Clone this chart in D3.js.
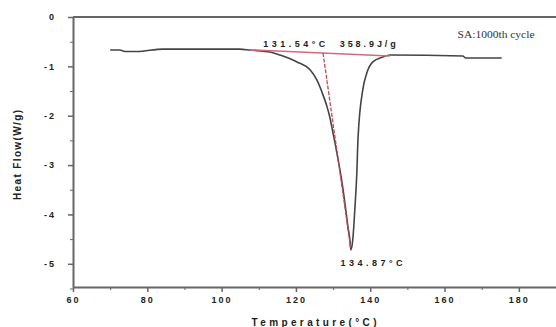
<!DOCTYPE html>
<html>
<head>
<meta charset="utf-8">
<script src="https://cdn.jsdelivr.net/npm/d3@7"></script>
<style>
  body { margin: 0; background: #fff; }
  text { font-family: "Liberation Sans", Arial, sans-serif; }
</style>
</head>
<body>
<div id="chart-area"></div>
<script>

// DSC trace
let temps = [70.0, 72.6, 74.0, 77.2, 84.2, 104.9, 107.6, 113.0, 115.7, 120.3, 123.8, 125.6, 127.0, 128.3, 129.1, 129.9,
             130.7, 131.5, 132.3, 133.2, 134.0, 134.5, 134.8, 135.3, 135.9, 136.4, 136.7, 138.0, 139.1, 140.7, 143.4, 145.3,
             164.9, 165.7, 175.4];
let heatFlow = [-0.67, -0.67, -0.70, -0.70, -0.65, -0.65, -0.67, -0.71, -0.77, -0.91, -1.07, -1.27, -1.52, -1.80, -2.02, -2.32,
                -2.62, -2.95, -3.30, -3.78, -4.25, -4.50, -4.72, -4.51, -3.84, -3.15, -2.48, -1.47, -1.13, -0.91, -0.81, -0.77,
                -0.79, -0.83, -0.83];

// red construction lines (onset baseline + tangent)
let baseT = [107.6, 145.3];
let baseHF = [-0.667, -0.79];
let tanT = [127.3, 134.8];
let tanHF = [-0.73, -4.71];

let xTicks = [60, 80, 100, 120, 140, 160, 180];
let yTicks = [0, -1, -2, -3, -4, -5];

let margin = {top: 17, right: 0, bottom: 40, left: 73};
let width = 556 - margin.left - margin.right,
    height = 327 - margin.top - margin.bottom;

let svg = d3.select("#chart-area").append("svg")
    .attr("width", 556)
    .attr("height", 327)
  .append("g")
    .attr("transform", "translate(" + margin.left + "," + margin.top + ")");

let x = d3.scaleLinear().domain([60, 190]).range([0, width]);
let y = d3.scaleLinear().domain([0, -5.47]).range([0, height]);

// minor ticks first
svg.append("g")
    .attr("transform", "translate(0," + height + ")")
    .call(d3.axisBottom(x).tickValues(d3.range(70, 190, 20)).tickSize(3).tickFormat(""))
    .call(g => g.select(".domain").remove())
    .selectAll("line").attr("stroke", "#666");
svg.append("g")
    .call(d3.axisLeft(y).tickValues(d3.range(-0.5, -5.6, -1)).tickSize(3).tickFormat(""))
    .call(g => g.select(".domain").remove())
    .selectAll("line").attr("stroke", "#666");

let xg = svg.append("g")
    .attr("transform", "translate(0," + height + ")")
    .call(d3.axisBottom(x).tickValues(xTicks).tickSize(5).tickPadding(5).tickSizeOuter(0));
let yg = svg.append("g")
    .call(d3.axisLeft(y).tickValues(yTicks).tickSize(5).tickPadding(12).tickSizeOuter(0)
        .tickFormat(d => d === 0 ? "0" : "-" + Math.abs(d)));

[xg, yg].forEach(g => {
    g.select(".domain").attr("stroke", "#666").attr("stroke-width", 2);
    g.selectAll("line").attr("stroke", "#666").attr("stroke-width", 1.5);
    g.selectAll("text")
        .attr("fill", "#222")
        .style("font-size", "9px")
        .style("font-weight", "bold")
        .style("letter-spacing", "2px");
});

// top frame line
svg.append("line")
    .attr("x1", 0).attr("x2", width)
    .attr("y1", y(0)).attr("y2", y(0))
    .attr("stroke", "#666").attr("stroke-width", 2);

let line = d3.line()
    .x(d => x(d[0]))
    .y(d => y(d[1]))
    .curve(d3.curveMonotoneX);

svg.append("path")
    .datum(d3.zip(temps, heatFlow))
    .attr("d", line)
    .attr("fill", "none")
    .attr("stroke", "#444")
    .attr("stroke-width", 1.6);

let straight = d3.line().x(d => x(d[0])).y(d => y(d[1]));

svg.append("path")
    .datum(d3.zip(baseT, baseHF))
    .attr("d", straight)
    .attr("fill", "none")
    .attr("stroke", "#d46a7c")
    .attr("stroke-width", 1.5);

svg.append("path")
    .datum(d3.zip(tanT, tanHF))
    .attr("d", straight)
    .attr("fill", "none")
    .attr("stroke", "#c8455e")
    .attr("stroke-width", 1.3)
    .attr("stroke-dasharray", "4,1.5");

// annotations
function note(t, tx, ty, len) {
    svg.append("text")
        .attr("x", x(tx)).attr("y", y(ty))
        .attr("textLength", len)
        .attr("lengthAdjust", "spacing")
        .style("font-size", "9px")
        .style("font-weight", "bold")
        .attr("fill", "#222")
        .text(t);
}
note("131.54°C", 111.2, -0.6, 62);
note("358.9J/g", 131.8, -0.6, 56);
note("134.87°C", 132.0, -5.05, 62);

svg.append("text")
    .attr("x", x(163.5)).attr("y", y(-0.42))
    .attr("textLength", 77)
    .attr("lengthAdjust", "spacingAndGlyphs")
    .style("font-family", "'Liberation Serif', 'Times New Roman', serif")
    .style("font-size", "10px")
    .attr("fill", "#333")
    .text("SA:1000th cycle");

// axis titles
svg.append("text")
    .attr("x", 314 - margin.left).attr("y", 327 - margin.top - 1)
    .attr("text-anchor", "middle")
    .attr("textLength", 125)
    .attr("lengthAdjust", "spacing")
    .style("font-size", "10px")
    .style("font-weight", "bold")
    .attr("fill", "#222")
    .text("Temperature(°C)");

svg.append("text")
    .attr("transform", "translate(" + (21 - margin.left) + "," + (155 - margin.top) + ")rotate(-90)")
    .attr("text-anchor", "middle")
    .attr("textLength", 90)
    .attr("lengthAdjust", "spacing")
    .style("font-size", "10px")
    .style("font-weight", "bold")
    .attr("fill", "#222")
    .text("Heat Flow(W/g)");

</script>
</body>
</html>
